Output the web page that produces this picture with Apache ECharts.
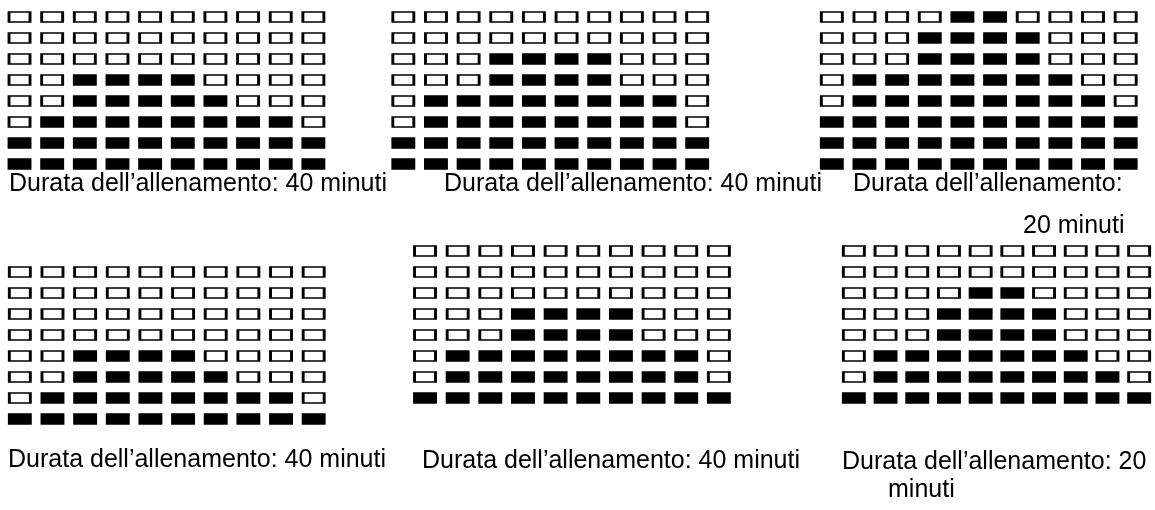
<!DOCTYPE html>
<html>
<head>
<meta charset="utf-8">
<script src="https://cdn.jsdelivr.net/npm/echarts@6/dist/echarts.min.js"></script>
<style>
  html, body { margin: 0; padding: 0; background: #fff; }
  #main { width: 1155px; height: 510px; }
</style>
</head>
<body>
<div id="main"></div>
<script>
// colonne e righe di ogni griglia
const columns = ['1', '2', '3', '4', '5', '6', '7', '8', '9', '10'];
const rows = ['1', '2', '3', '4', '5', '6', '7', '8'];

// rettangoli pieni per colonna (contati dal basso), un array per pannello
const panel1 = [2, 3, 5, 5, 5, 5, 4, 3, 3, 2];
const panel2 = [2, 4, 4, 6, 6, 6, 6, 4, 4, 2];
const panel3 = [3, 5, 5, 7, 8, 8, 7, 5, 4, 3];
const panel4 = [1, 2, 4, 4, 4, 4, 3, 2, 2, 1];
const panel5 = [1, 3, 3, 5, 5, 5, 5, 3, 3, 1];
const panel6 = [1, 3, 3, 5, 6, 6, 5, 3, 2, 1];

// didascalie (una riga per elemento)
const caption1 = ['Durata dell’allenamento: 40 minuti'];
const caption2 = ['Durata dell’allenamento: 40 minuti'];
const caption3 = ['Durata dell’allenamento:', '20 minuti'];
const caption4 = ['Durata dell’allenamento: 40 minuti'];
const caption5 = ['Durata dell’allenamento: 40 minuti'];
const caption6 = ['Durata dell’allenamento: 20', 'minuti'];

const panels = [panel1, panel2, panel3, panel4, panel5, panel6];
const captions = [caption1, caption2, caption3, caption4, caption5, caption6];

// posizione delle griglie e delle righe di testo
const gridPos = [
  { left: 3.2, top: 6.5 },
  { left: 387, top: 6.5 },
  { left: 815.5, top: 6.5 },
  { left: 3.5, top: 261.5 },
  { left: 408.7, top: 240.5 },
  { left: 838, top: 240.5 }
];
const textPos = [
  [[9, 172]],
  [[444, 172]],
  [[853, 172], [1023, 214]],
  [[8, 448]],
  [[422, 449]],
  [[842, 449.5], [888, 478]]
];

const font = "'Liberation Sans', Arial, sans-serif";

let grids = [];
let xAxes = [];
let yAxes = [];
let series = [];
let titles = [];

panels.forEach(function (heights, p) {
  grids.push({
    left: gridPos[p].left,
    top: gridPos[p].top,
    width: 326.5,
    height: 168
  });
  xAxes.push({ type: 'category', gridIndex: p, data: columns, show: false });
  yAxes.push({ type: 'category', gridIndex: p, data: rows, show: false });

  let full = [];
  let empty = [];
  heights.forEach(function (h, c) {
    rows.forEach(function (r, i) {
      if (i < h) full.push([c, i]);
      else empty.push([c, i]);
    });
  });

  const base = {
    type: 'scatter',
    xAxisIndex: p,
    yAxisIndex: p,
    symbol: 'rect',
    symbolSize: [21, 10],
    silent: true
  };
  series.push(Object.assign({}, base, {
    data: full,
    itemStyle: { color: '#000', borderColor: '#000', borderWidth: 2, opacity: 1 }
  }));
  series.push(Object.assign({}, base, {
    data: empty,
    itemStyle: { color: '#fff', borderColor: '#000', borderWidth: 2, opacity: 1 }
  }));

  captions[p].forEach(function (line, k) {
    titles.push({
      text: line,
      left: textPos[p][k][0],
      top: textPos[p][k][1],
      padding: 0,
      textStyle: {
        fontFamily: font,
        fontSize: 25,
        fontWeight: 'normal',
        color: '#000',
        lineHeight: 25
      }
    });
  });
});

let chart = echarts.init(document.getElementById('main'));
chart.setOption({
  backgroundColor: '#fff',
  animation: false,
  title: titles,
  grid: grids,
  xAxis: xAxes,
  yAxis: yAxes,
  series: series
});
</script>
</body>
</html>
